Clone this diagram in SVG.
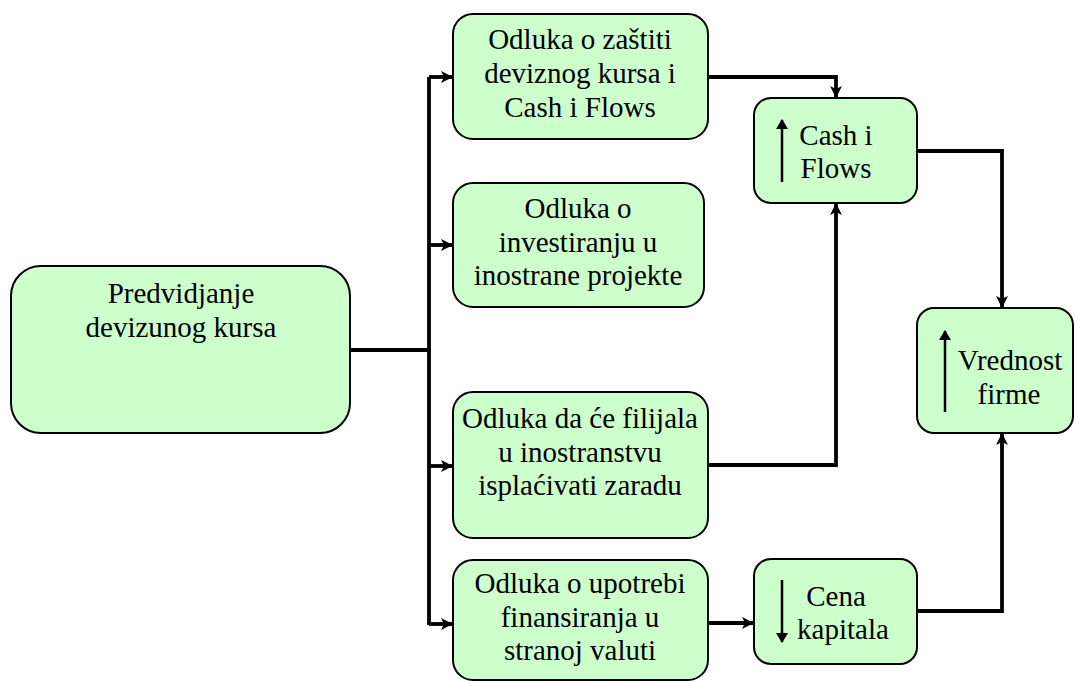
<svg xmlns="http://www.w3.org/2000/svg" width="1075" height="681" viewBox="0 0 1075 681">
  <defs>
    <style>
      .box { fill: #ccffcc; stroke: #000; stroke-width: 2; }
      .wire { fill: none; stroke: #000; stroke-width: 3.8; stroke-linejoin: miter; }
      .tick { fill: none; stroke: #000; stroke-width: 2.5; }
      text { font-family: "Liberation Serif", "Times New Roman", serif; font-size: 29px; fill: #000; text-anchor: middle; }
    </style>
    <marker id="head" viewBox="0 0 12 12" refX="11" refY="6" markerWidth="12" markerHeight="12" markerUnits="userSpaceOnUse" orient="auto">
      <path d="M0,0 L12,6 L0,12 L3,6 Z" fill="#000"/>
    </marker>
    <marker id="mini" viewBox="0 0 10 12" refX="9" refY="6" markerWidth="10" markerHeight="12" markerUnits="userSpaceOnUse" orient="auto">
      <path d="M0,0 L10,6 L0,12 Z" fill="#000"/>
    </marker>
  </defs>

  <!-- connectors -->
  <g id="connectors">
    <path class="wire" d="M350,350 H429"/>
    <path class="wire" d="M429,625 V77"/>
    <path class="wire" d="M429,77 H452" marker-end="url(#head)"/>
    <path class="wire" d="M429,245 H452" marker-end="url(#head)"/>
    <path class="wire" d="M429,466 H452" marker-end="url(#head)"/>
    <path class="wire" d="M429,624 H452" marker-end="url(#head)"/>
    <path class="wire" d="M708,77 H836 V97" marker-end="url(#head)"/>
    <path class="wire" d="M708,465 H836 V204" marker-end="url(#head)"/>
    <path class="wire" d="M708,623 H753" marker-end="url(#head)"/>
    <path class="wire" d="M917,151 H1002 V307" marker-end="url(#head)"/>
    <path class="wire" d="M917,611 H1002 V434" marker-end="url(#head)"/>
  </g>

  <!-- forecast -->
  <g id="n-predvidjanje">
    <rect class="box" x="11" y="266" width="339" height="167" rx="30"/>
    <text x="181" y="303">Predvidjanje</text>
    <text x="181" y="337">devizunog kursa</text>
  </g>

  <g id="n-zastita">
    <rect class="box" x="453" y="14" width="255" height="125" rx="20"/>
    <text x="580" y="49">Odluka o zaštiti</text>
    <text x="580" y="83">deviznog kursa i</text>
    <text x="580" y="117">Cash i Flows</text>
  </g>

  <g id="n-investiranje">
    <rect class="box" x="453" y="183" width="251" height="124" rx="20"/>
    <text x="578" y="218">Odluka o</text>
    <text x="578" y="252">investiranju u</text>
    <text x="578" y="285">inostrane projekte</text>
  </g>

  <g id="n-filijala">
    <rect class="box" x="453" y="392" width="255" height="146" rx="20"/>
    <text x="580" y="428">Odluka da će filijala</text>
    <text x="580" y="462">u inostranstvu</text>
    <text x="580" y="495">isplaćivati zaradu</text>
  </g>

  <g id="n-finansiranje">
    <rect class="box" x="453" y="560" width="255" height="120" rx="20"/>
    <text x="580" y="593">Odluka o upotrebi</text>
    <text x="580" y="627">finansiranja u</text>
    <text x="580" y="660">stranoj valuti</text>
  </g>

  <g id="n-cash">
    <rect class="box" x="754" y="98" width="163" height="105" rx="17"/>
    <path class="tick" d="M782,182 V120" marker-end="url(#mini)"/>
    <text x="836" y="145">Cash i</text>
    <text x="836" y="178">Flows</text>
  </g>

  <g id="n-vrednost">
    <rect class="box" x="917" y="308" width="156" height="125" rx="17"/>
    <path class="tick" d="M945,412 V331" marker-end="url(#mini)"/>
    <text x="1010" y="370">Vrednost</text>
    <text x="1009" y="404">firme</text>
  </g>

  <g id="n-cena">
    <rect class="box" x="754" y="559" width="163" height="105" rx="17"/>
    <path class="tick" d="M782,580 V642" marker-end="url(#mini)"/>
    <text x="836" y="606">Cena</text>
    <text x="843" y="639">kapitala</text>
  </g>
</svg>
